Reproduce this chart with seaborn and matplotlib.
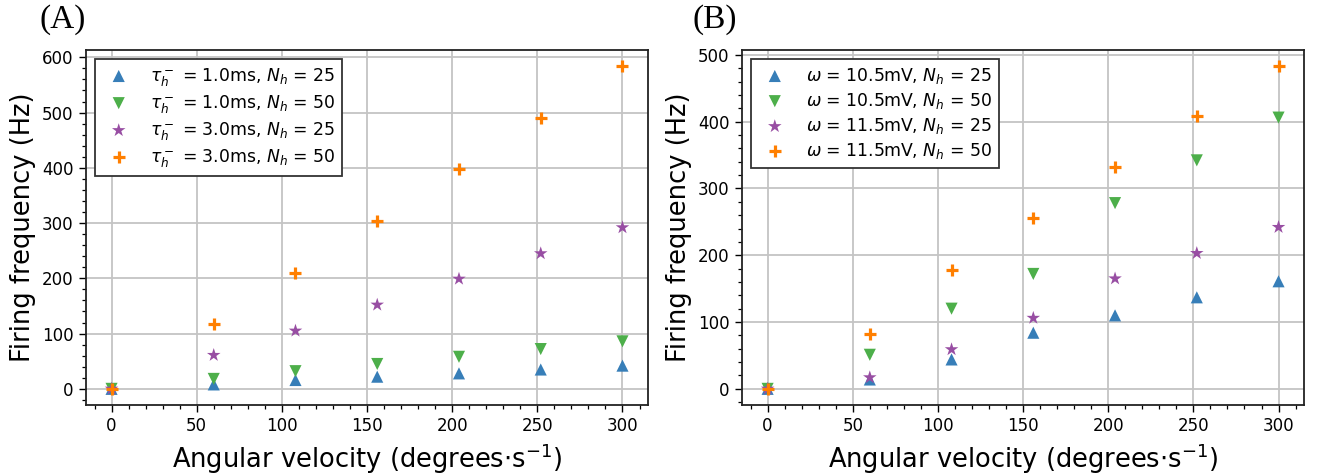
import matplotlib
matplotlib.use("Agg")
import matplotlib.pyplot as plt
from matplotlib.ticker import MultipleLocator
import seaborn as sns
import numpy as np

# Angular velocity steps (degrees/s)
velocity = [0, 60, 108, 156, 204, 252, 300]

# Panel A: firing frequency for different tau_h^- and N_h
a_tau1_n25 = [0, 8, 16, 22, 28, 35, 42]
a_tau1_n50 = [0, 18, 32, 45, 58, 72, 86]
a_tau3_n25 = [0, 61, 105, 152, 199, 245, 292]
a_tau3_n50 = [0, 117, 210, 304, 397, 491, 584]
a_labels = [r"$\tau_h^-$ = 1.0ms, $N_h$ = 25",
            r"$\tau_h^-$ = 1.0ms, $N_h$ = 50",
            r"$\tau_h^-$ = 3.0ms, $N_h$ = 25",
            r"$\tau_h^-$ = 3.0ms, $N_h$ = 50"]

# Panel B: firing frequency for different omega and N_h
b_w105_n25 = [0, 14, 44, 84, 110, 137, 161]
b_w105_n50 = [0, 51, 120, 172, 278, 342, 406]
b_w115_n25 = [0, 17, 59, 106, 165, 203, 242]
b_w115_n50 = [0, 82, 178, 255, 332, 408, 483]
b_labels = [r"$\omega$ = 10.5mV, $N_h$ = 25",
            r"$\omega$ = 10.5mV, $N_h$ = 50",
            r"$\omega$ = 11.5mV, $N_h$ = 25",
            r"$\omega$ = 11.5mV, $N_h$ = 50"]

panel_titles = ["(A)", "(B)"]

sns.set_theme(style="ticks")
plt.rcParams["font.family"] = ["DejaVu Sans"]
plt.rcParams["mathtext.fontset"] = "dejavusans"
plt.rcParams["text.color"] = "black"
plt.rcParams["axes.labelcolor"] = "black"
plt.rcParams["xtick.color"] = "black"
plt.rcParams["ytick.color"] = "black"

colors = sns.color_palette("Set1")
series_colors = [colors[1], colors[2], colors[3], colors[4]]
markers = ["^", "v", "*", "+"]
sizes = [76, 76, 105, 85]

fig = plt.figure(figsize=(13.19, 4.75), dpi=100)
ax_a = fig.add_axes([0.0652, 0.1474, 0.4261, 0.7473])
ax_b = fig.add_axes([0.5626, 0.1474, 0.4261, 0.7473])

panels = [
    (ax_a, [a_tau1_n25, a_tau1_n50, a_tau3_n25, a_tau3_n50], a_labels),
    (ax_b, [b_w105_n25, b_w105_n50, b_w115_n25, b_w115_n50], b_labels),
]

for ax, series, labels in panels:
    for vals, lab, col, mk, sz in zip(series, labels, series_colors, markers, sizes):
        if mk == "+":
            sns.scatterplot(x=velocity, y=vals, ax=ax, marker=mk, color=col,
                            s=sz, linewidth=2.3, label=lab, zorder=3)
        else:
            sns.scatterplot(x=velocity, y=vals, ax=ax, marker=mk, color=col,
                            s=sz, edgecolor="none", label=lab, zorder=3)
    ax.grid(True, which="major", color="#c4c4c4", linewidth=1.3, zorder=0)
    ax.set_axisbelow(True)
    ax.xaxis.set_major_locator(MultipleLocator(50))
    ax.xaxis.set_minor_locator(MultipleLocator(10))
    ax.yaxis.set_major_locator(MultipleLocator(100))
    ax.yaxis.set_minor_locator(MultipleLocator(20))
    ax.tick_params(which="major", direction="out", length=5, width=1.0,
                   labelsize=12, color="black", labelcolor="black", pad=4)
    ax.tick_params(which="minor", direction="out", length=2.7, width=0.9,
                   color="black")
    for sp in ax.spines.values():
        sp.set_visible(True)
        sp.set_color("#222222")
        sp.set_linewidth(1.3)
    ax.set_xlabel(r"Angular velocity (degrees$\cdot$s$^{-1}$)", fontsize=18.5,
                  color="black")
    ax.set_ylabel("Firing frequency (Hz)", fontsize=18.5, color="black")
    leg = ax.legend(loc="upper left", fontsize=12.4, fancybox=False,
                    framealpha=1, edgecolor="#333333", borderpad=0.4,
                    labelspacing=0.3, handletextpad=0.8, labelcolor="black")
    leg.get_frame().set_linewidth(1.3)

fig.text(0.0303, 0.941, panel_titles[0], family="Liberation Serif", fontsize=24,
         color="black")
fig.text(0.525, 0.941, panel_titles[1], family="Liberation Serif", fontsize=24,
         color="black")

fig.savefig("out.png", dpi=100)
